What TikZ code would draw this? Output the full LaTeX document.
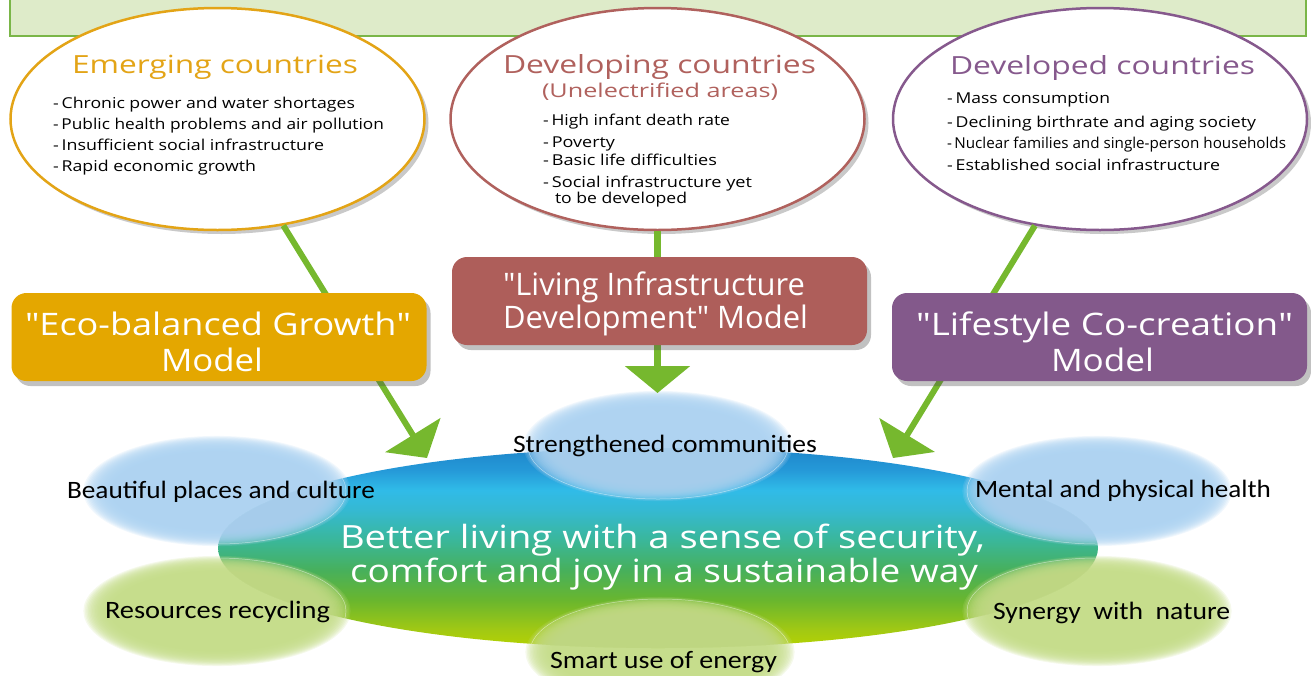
\documentclass[tikz,border=0pt]{standalone}
\usepackage{fontspec}
\setmainfont{Open Sans}
\newfontfamily\lblfamily{Carlito}
\usepackage{graphicx}
\usetikzlibrary{shapes.geometric,arrows.meta,shadows}

\definecolor{bannerFill}{HTML}{DEEBC9}
\definecolor{bannerLine}{HTML}{7AB648}
\definecolor{emC}{HTML}{E3A416}
\definecolor{dgC}{HTML}{B0615D}
\definecolor{ddC}{HTML}{86598D}
\definecolor{emBox}{HTML}{E4A700}
\definecolor{dgBox}{HTML}{AE5E5A}
\definecolor{ddBox}{HTML}{83598B}
\definecolor{arrowG}{HTML}{76B82E}
\definecolor{bubB}{HTML}{ACD2F1}
\definecolor{bubG}{HTML}{C4DC88}
\definecolor{bl0}{HTML}{B6D300}
\definecolor{bl1}{HTML}{A2C913}
\definecolor{bl2}{HTML}{69B62E}
\definecolor{bl3}{HTML}{47B05C}
\definecolor{bl4}{HTML}{3AB79A}
\definecolor{bl5}{HTML}{35B9D2}
\definecolor{bl6}{HTML}{30BBE8}
\definecolor{bl7}{HTML}{2599D8}
\definecolor{bl8}{HTML}{1E86CA}

\pgfdeclareverticalshading{blobshade}{100bp}{color(0bp)=(bl0); color(25bp)=(bl0); color(29.5bp)=(bl1); color(37bp)=(bl2); color(44.5bp)=(bl3); color(52bp)=(bl4); color(59.5bp)=(bl5); color(64.5bp)=(bl6); color(69.5bp)=(bl7); color(75bp)=(bl8); color(100bp)=(bl8)}

\newlength\fitlen
\newcommand\fitw[2]{\settowidth\fitlen{#2}\pgfmathsetmacro\fitfac{#1/\fitlen}\scalebox{\fitfac}[1]{#2}}
\newcommand\tline[6]{\node[txt,#5] (#1) at (#2,#3) {\fitw{#4}{#6}};}
\newcommand\softbub[5]{%
  \foreach \k in {0,...,19}{%
    \fill[#5, opacity=0.16] (#1,#2) ellipse [x radius={#3*(1.02-0.011*\k)*1pt}, y radius={#4*(1.02-0.015*\k)*1pt}];
  }}

\newcommand\ttlf{\fontsize{25}{30}\selectfont}
\newcommand\subf{\fontsize{19}{23}\selectfont}
\newcommand\bulf{\fontsize{15}{18}\selectfont}
\newcommand\modf{\fontsize{31}{36}\selectfont}
\newcommand\cenf{\fontsize{32}{38}\selectfont}
\newcommand\lblf{\lblfamily\fontsize{25}{30}\selectfont}
\newcommand\q{\textquotedbl}

\begin{document}
\begin{tikzpicture}[x=1pt,y=-1pt,
  txt/.style={anchor=base west, inner sep=0pt, outer sep=0pt},
  ell/.style={ellipse, minimum width=414pt, minimum height=222pt, inner sep=0pt, fill=white, line width=2.5pt,
    drop shadow={shadow xshift=4pt, shadow yshift=-4pt, opacity=.3, fill=black!70}},
  mbox/.style={rectangle, rounded corners=15pt, minimum width=415pt, minimum height=88pt, inner sep=0pt,
    drop shadow={shadow xshift=4pt, shadow yshift=-5pt, opacity=.35, fill=black!70}},
  conn/.style={draw=arrowG, line width=6pt, -{Triangle[width=64pt,length=27pt]}},
  blobst/.style={ellipse, minimum width=880pt, minimum height=200pt, inner sep=0pt, shading=blobshade},
  edge line/.style={white, opacity=.5, line width=.5pt}
]
\useasboundingbox (0,0) rectangle (1311,675);

% top banner
\draw[fill=bannerFill, draw=bannerLine, line width=2pt] (10,-5) rectangle (1306,36);

% central blob
\node[blobst] (blob) at (658,548) {};

% soft bubbles
\softbub{658}{446}{132}{54}{bubB}
\softbub{217}{491}{131}{54}{bubB}
\softbub{1097}{491}{132}{54}{bubB}
\softbub{217}{611}{131}{54}{bubG}
\softbub{1097}{611}{132}{54}{bubG}
\softbub{660}{652}{132}{54}{bubG}
\begin{scope}
  \clip (658,548) ellipse [x radius=440pt, y radius=100pt];
  \draw[edge line] (658,446) ellipse [x radius=130pt, y radius=53pt];
  \draw[edge line] (217,491) ellipse [x radius=129pt, y radius=53pt];
  \draw[edge line] (1097,491) ellipse [x radius=130pt, y radius=53pt];
  \draw[edge line] (217,611) ellipse [x radius=129pt, y radius=53pt];
  \draw[edge line] (1097,611) ellipse [x radius=130pt, y radius=53pt];
  \draw[edge line] (660,652) ellipse [x radius=130pt, y radius=53pt];
\end{scope}

% country ellipses
\node[ell, draw=emC] (em) at (217.5,119) {};
\node[ell, draw=dgC] (dg) at (657.5,119) {};
\node[ell, draw=ddC] (dd) at (1100,119) {};

% connectors
\coordinate (tipE) at (427,458);
\coordinate (tipL) at (657.5,393);
\coordinate (tipF) at (893,458);
\draw[conn] (em) -- (tipE);
\draw[conn, line width=7pt] (dg) -- (tipL);
\draw[conn] (dd) -- (tipF);

% model boxes
\node[mbox, fill=emBox] (eco) at (219,337) {};
\node[mbox, fill=dgBox] (liv) at (659.5,301) {};
\node[mbox, fill=ddBox] (life) at (1099.5,337) {};

% Emerging countries texts
\tline{emT}{72}{73}{286}{font=\ttlf, text=emC}{Emerging countries}
\tline{emB1}{53}{108}{302}{font=\bulf}{-\,Chronic power and water shortages}
\tline{emB2}{53}{129}{331}{font=\bulf}{-\,Public health problems and air pollution}
\tline{emB3}{53}{150}{271}{font=\bulf}{-\,Insufficient social infrastructure}
\tline{emB4}{53}{171}{203}{font=\bulf}{-\,Rapid economic growth}

% Developing countries texts
\tline{dgT}{503}{73}{313}{font=\ttlf, text=dgC}{Developing countries}
\tline{dgS}{542}{97}{236}{font=\subf, text=dgC}{(Unelectrified areas)}
\tline{dgB1}{543}{125}{187}{font=\bulf}{-\,High infant death rate}
\tline{dgB2}{543}{147}{72}{font=\bulf}{-\,Poverty}
\tline{dgB3}{543}{165}{174}{font=\bulf}{-\,Basic life difficulties}
\tline{dgB4}{543}{187}{209}{font=\bulf}{-\,Social infrastructure yet}
\tline{dgB5}{555}{203}{132}{font=\bulf}{to be developed}

% Developed countries texts
\tline{ddT}{950}{74}{305}{font=\ttlf, text=ddC}{Developed countries}
\tline{ddB1}{947}{103}{163}{font=\bulf}{-\,Mass consumption}
\tline{ddB2}{947}{127}{309}{font=\bulf}{-\,Declining birthrate and aging society}
\tline{ddB3}{947}{148}{339}{font=\bulf}{-\,Nuclear families and single-person households}
\tline{ddB4}{947}{170}{273}{font=\bulf}{-\,Established social infrastructure}

% model box texts
\tline{ecoL1}{25}{335}{386}{font=\modf, text=white}{\q Eco-balanced Growth\q}
\tline{ecoL2}{161}{371}{102}{font=\modf, text=white}{Model}
\tline{livL1}{503}{295}{302}{font=\modf, text=white}{\q Living Infrastructure}
\tline{livL2}{503}{328}{305}{font=\modf, text=white}{Development\q{} Model}
\tline{lifeL1}{916}{335}{377}{font=\modf, text=white}{\q Lifestyle Co-creation\q}
\tline{lifeL2}{1051}{371}{103}{font=\modf, text=white}{Model}

% central text
\tline{cen1}{340}{548}{645}{font=\cenf, text=white}{Better living with a sense of security,}
\tline{cen2}{350}{582}{628}{font=\cenf, text=white}{comfort and joy in a sustainable way}

% bubble labels
\tline{lblStr}{513}{452}{304}{font=\lblf}{Strengthened communities}
\tline{lblBea}{67}{498}{308}{font=\lblf}{Beautiful places and culture}
\tline{lblMen}{975}{497}{296}{font=\lblf}{Mental and physical health}
\tline{lblRes}{105}{618}{225}{font=\lblf}{Resources recycling}
\tline{lblSyn}{993}{619}{237}{font=\lblf}{Synergy\ \ with\ \ nature}
\tline{lblSma}{550}{668}{227}{font=\lblf}{Smart use of energy}
\end{tikzpicture}
\end{document}
